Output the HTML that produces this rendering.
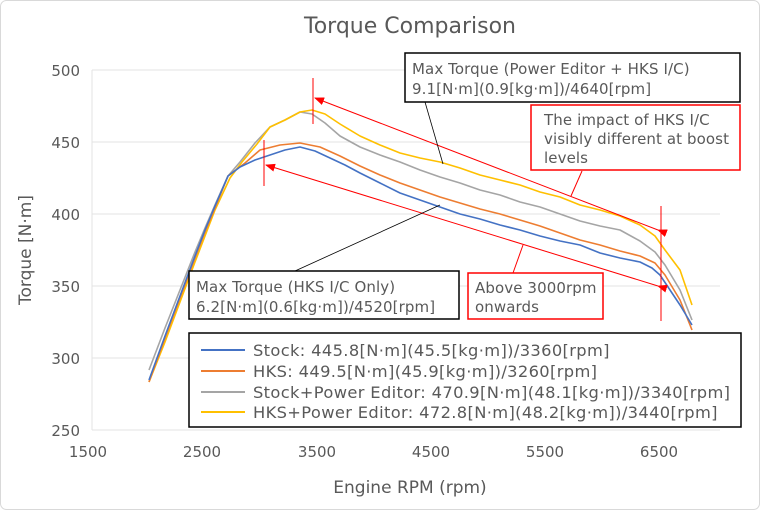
<!DOCTYPE html>
<html><head><meta charset="utf-8"><style>
body{margin:0;background:#fff}
svg text{font-family:"DejaVu Sans","Liberation Sans",sans-serif;fill:#595959}
</style></head><body>
<svg width="760" height="510" viewBox="0 0 760 510" xmlns="http://www.w3.org/2000/svg">
<defs>
<marker id="ah" markerWidth="10" markerHeight="8" refX="9" refY="4" orient="auto" markerUnits="userSpaceOnUse"><path d="M0,0 L10,4 L0,8 z" fill="#ff0000"/></marker>
</defs>
<rect x="0.5" y="0.5" width="759" height="509" rx="6" fill="#fff" stroke="#d9d9d9"/>
<text x="410" y="33" font-size="22" text-anchor="middle">Torque Comparison</text>
<g stroke="#e3e3e3" stroke-width="1">
<line x1="92" y1="70" x2="720" y2="70"/><line x1="92" y1="142" x2="720" y2="142"/><line x1="92" y1="214" x2="720" y2="214"/><line x1="92" y1="286" x2="720" y2="286"/><line x1="92" y1="358" x2="720" y2="358"/><line x1="92" y1="430" x2="720" y2="430"/>
<line x1="92" y1="70" x2="92" y2="430"/>
</g>
<g font-size="15" text-anchor="end">
<text x="80" y="76">500</text><text x="80" y="148">450</text><text x="80" y="220">400</text><text x="80" y="292">350</text><text x="80" y="364">300</text><text x="80" y="436">250</text>
</g>
<g font-size="15" text-anchor="middle">
<text x="88" y="457">1500</text><text x="202" y="457">2500</text><text x="317" y="457">3500</text><text x="431" y="457">4500</text><text x="545" y="457">5500</text><text x="659" y="457">6500</text>
</g>
<text x="410" y="493" font-size="17" text-anchor="middle">Engine RPM (rpm)</text>
<text transform="translate(31,250) rotate(-90)" font-size="17" text-anchor="middle">Torque [N·m]</text>
<g fill="none" stroke-width="1.6" stroke-linejoin="round">
<polyline stroke="#a5a5a5" points="149,370 165,328 180,290 195,252 205,228 215,205 228,176 240,162 255,143 270,127 285,120 300,112 312,114 325,123 340,136 360,147 380,155 400,162 420,170 440,177 460,183 480,190 500,195 520,202 540,207 560,214 580,221 600,226 620,230 640,241 655,252 665,265 680,290 692,320"/>
<polyline stroke="#ffc000" points="149,382 165,342 180,302 195,262 205,236 215,210 230,178 242,162 257,144 270,127 285,120 300,112 312,110 325,114 340,124 360,136 380,145 400,153 420,158 440,162 460,168 480,175 500,180 520,185 540,192 560,197 580,205 600,210 620,216 640,225 655,236 665,250 680,270 692,305"/>
<polyline stroke="#ed7d31" points="149,382 165,338 180,298 195,258 205,232 215,208 228,176 245,163 260,150 280,145 300,143 320,147 340,156 360,166 380,175 400,183 420,190 440,197 460,203 480,209 500,214 520,220 540,226 560,233 580,240 600,245 620,251 640,256 655,263 665,275 680,300 692,330"/>
<polyline stroke="#4472c4" points="149,380 165,336 180,296 195,256 205,230 215,206 228,176 240,167 255,160 270,155 285,150 300,147 315,151 330,158 345,165 360,173 380,183 400,193 420,200 440,207 460,214 480,219 500,225 520,230 540,236 560,241 580,245 600,253 620,258 640,262 652,268 660,275 670,290 680,305 692,325"/>
</g>
<g stroke="#ff0000" stroke-width="1" fill="none">
<line x1="313" y1="78" x2="313" y2="124"/>
<line x1="264" y1="140" x2="264" y2="186"/>
<line x1="661" y1="206" x2="661" y2="321"/>
<line x1="658" y1="230" x2="315" y2="98" marker-end="url(#ah)" marker-start="url(#ah)"/>
<line x1="658" y1="286" x2="266" y2="165" marker-end="url(#ah)" marker-start="url(#ah)"/>
<line x1="582" y1="171" x2="571" y2="196"/>
<line x1="513" y1="273" x2="523" y2="245"/>
</g>
<g stroke="#000" stroke-width="0.8">
<line x1="425" y1="102" x2="443" y2="164"/>
<line x1="295" y1="271" x2="440" y2="205"/>
</g>
<g font-size="15" letter-spacing="0.1">
<rect x="405" y="53" width="335" height="49" fill="#fff" stroke="#000" stroke-width="1.5"/>
<text x="412" y="74">Max Torque (Power Editor + HKS I/C)</text><text x="412" y="94">9.1[N·m](0.9[kg·m])/4640[rpm]</text>
<rect x="531" y="105" width="209" height="65" fill="#fff" stroke="#ff0000" stroke-width="1.5"/>
<text x="544" y="125">The impact of HKS I/C</text><text x="544" y="144">visibly different at boost</text><text x="544" y="163">levels</text>
<rect x="189" y="271" width="270" height="48" fill="#fff" stroke="#000" stroke-width="1.5"/>
<text x="196" y="292">Max Torque (HKS I/C Only)</text><text x="196" y="312">6.2[N·m](0.6[kg·m])/4520[rpm]</text>
<rect x="468" y="273" width="135" height="46" fill="#fff" stroke="#ff0000" stroke-width="1.5"/>
<text x="475" y="293">Above 3000rpm</text><text x="475" y="312">onwards</text>
</g>
<rect x="189" y="333" width="552" height="94" fill="#fff" stroke="#000" stroke-width="1.5"/>
<g stroke-width="2">
<line x1="201" y1="350" x2="245" y2="350" stroke="#4472c4"/>
<line x1="201" y1="371" x2="245" y2="371" stroke="#ed7d31"/>
<line x1="201" y1="392" x2="245" y2="392" stroke="#a5a5a5"/>
<line x1="201" y1="412" x2="245" y2="412" stroke="#ffc000"/>
</g>
<g font-size="16.3" letter-spacing="0.35">
<text x="253" y="356">Stock: 445.8[N·m](45.5[kg·m])/3360[rpm]</text>
<text x="253" y="377">HKS: 449.5[N·m](45.9[kg·m])/3260[rpm]</text>
<text x="253" y="398">Stock+Power Editor: 470.9[N·m](48.1[kg·m])/3340[rpm]</text>
<text x="253" y="418">HKS+Power Editor: 472.8[N·m](48.2[kg·m])/3440[rpm]</text>
</g>
</svg>
</body></html>
